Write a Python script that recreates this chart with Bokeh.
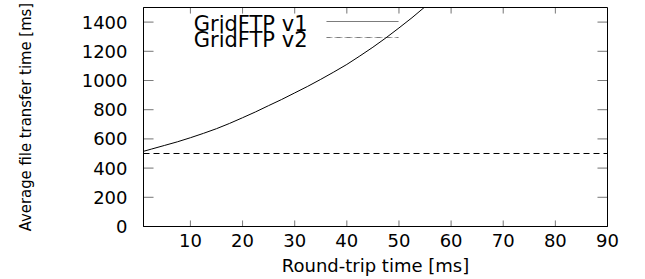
from bokeh.plotting import figure
from bokeh.models import Range1d, FixedTicker, Label, BoxAnnotation
from bokeh.embed import file_html
from bokeh.resources import INLINE

# data
rtt_v1 = [1, 2.5, 5, 7.5, 10, 12.5, 15, 17.5, 20, 22.5, 25, 27.5, 30, 32.5,
          35, 37.5, 40, 42.5, 45, 47.5, 50, 52.5, 55, 57.5]
time_v1 = [515, 530, 555, 580, 608, 638, 670, 706, 745, 785, 828, 870, 915, 960,
           1008, 1058, 1110, 1168, 1228, 1292, 1360, 1430, 1505, 1585]
rtt_v2 = [1, 90]
time_v2 = [500, 500]
x_ticks = [10, 20, 30, 40, 50, 60, 70, 80, 90]
y_ticks = [0, 200, 400, 600, 800, 1000, 1200, 1400]
series_names = ["GridFTP v1", "GridFTP v2"]

FONT = "DejaVu Sans"
X0, X1, Y0, Y1 = 1, 90, 0, 1500
W, H = 645, 279
BL, BR, BT, BB = 143, 38, 7, 53
frame_w = W - BL - BR
frame_h = H - BT - BB

p = figure(width=W, height=H, output_backend="svg", toolbar_location=None,
           x_range=Range1d(X0, X1), y_range=Range1d(Y0, Y1),
           min_border_left=BL, min_border_right=BR, min_border_top=BT, min_border_bottom=BB)
p.background_fill_color = "white"
p.border_fill_color = "white"
p.outline_line_color = "black"
p.outline_line_width = 1
p.xgrid.visible = False
p.ygrid.visible = False

p.line(rtt_v1, time_v1, line_color="black", line_width=1)
p.line(rtt_v2, time_v2, line_color="black", line_width=1, line_dash="6 4")


def tick(left, right, top, bottom, lu, ru, tu, bu):
    p.add_layout(BoxAnnotation(left=left, right=right, top=top, bottom=bottom,
                               left_units=lu, right_units=ru, top_units=tu, bottom_units=bu,
                               fill_alpha=0, line_color="black", line_width=1))


# inward (mirrored) tick marks, gnuplot style: 10 px on y, 6 px on x
for t in y_ticks:
    tick(0, 10, t, t, "screen", "screen", "data", "data")
    tick(frame_w - 10, frame_w, t, t, "screen", "screen", "data", "data")
for t in x_ticks:
    tick(t, t, 6, 0, "data", "data", "screen", "screen")
    tick(t, t, frame_h, frame_h - 6, "data", "data", "screen", "screen")

xa = p.xaxis[0]
xa.ticker = FixedTicker(ticks=x_ticks)
xa.minor_tick_line_color = None
xa.major_tick_in = 0
xa.major_tick_out = 0
xa.major_label_standoff = 7
xa.major_label_text_font = FONT
xa.major_label_text_font_size = "18px"
xa.major_label_text_color = "black"
xa.axis_label = "Round-trip time [ms]"
xa.axis_label_text_font = FONT
xa.axis_label_text_font_size = "18px"
xa.axis_label_text_font_style = "normal"
xa.axis_label_text_color = "black"
xa.axis_label_standoff = 5
xa.axis_line_color = "black"

ya = p.yaxis[0]
ya.ticker = FixedTicker(ticks=y_ticks)
ya.minor_tick_line_color = None
ya.major_tick_in = 0
ya.major_tick_out = 0
ya.major_label_standoff = 16
ya.major_label_text_font = FONT
ya.major_label_text_font_size = "18px"
ya.major_label_text_color = "black"
ya.axis_label = "Average file transfer time [ms]"
ya.axis_label_text_font = "DejaVu Sans Condensed, Liberation Sans"
ya.axis_label_text_font_size = "16.5px"
ya.axis_label_text_font_style = "normal"
ya.axis_label_text_color = "black"
ya.axis_label_standoff = 44
ya.axis_line_color = "black"

# legend (text then sample, like gnuplot); screen units relative to the frame
for i, name in enumerate(series_names):
    p.add_layout(Label(x=164, y=frame_h - 16 - 16 * i, x_units="screen", y_units="screen",
                       text=name, text_align="right", text_baseline="middle",
                       text_font=FONT, text_font_size="21px", text_color="black"))
    yl = frame_h - 14 - 16 * i
    p.add_layout(BoxAnnotation(left=183, right=255, top=yl, bottom=yl,
                               left_units="screen", right_units="screen",
                               top_units="screen", bottom_units="screen",
                               fill_alpha=0, line_color="black", line_width=1,
                               line_dash="solid" if i == 0 else "6 4"))

open("out.html", "w").write(file_html(p, INLINE))
